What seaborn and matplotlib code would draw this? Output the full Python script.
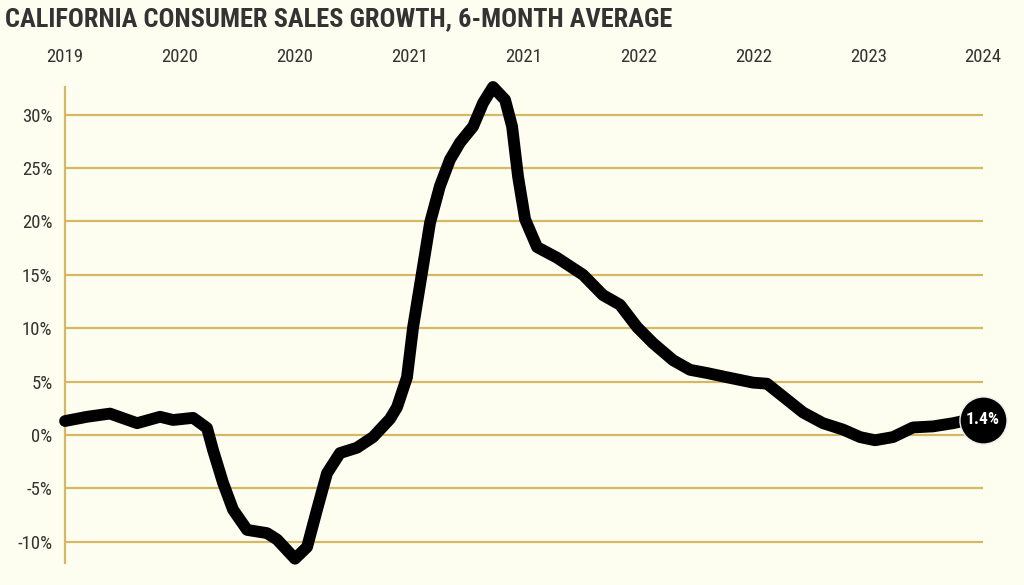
import matplotlib
matplotlib.use("Agg")
import matplotlib.pyplot as plt
import seaborn as sns
import pandas as pd
from matplotlib import font_manager

# ---- data (months since Jan 2019, 6-month average growth %) ----
months = [0.0, 1.44, 2.94, 4.71, 6.21, 7.06, 8.37, 9.28, 9.67, 10.33,
          10.98, 11.9, 13.2, 13.86, 15.03, 15.82, 16.47, 17.12, 17.97, 19.08,
          20.13, 21.24, 21.7, 22.35, 22.75, 23.33, 23.86, 24.5, 25.16, 25.82,
          26.67, 27.32, 27.97, 28.76, 29.22, 29.61, 30.07, 30.85, 32.16, 33.86,
          35.16, 36.27, 37.39, 38.43, 39.74, 40.85, 41.96, 43.27, 44.97, 45.88,
          46.93, 48.24, 49.54, 50.85, 51.96, 52.94, 54.12, 55.42, 56.73, 58.04,
          58.69, 60.0]
growth = [1.3, 1.7, 2.0, 1.1, 1.7, 1.4, 1.6, 0.65, -1.4, -4.5,
          -7.0, -8.9, -9.2, -9.8, -11.6, -10.5, -7.0, -3.6, -1.7, -1.2,
          -0.2, 1.5, 2.6, 5.4, 10.1, 15.2, 19.9, 23.3, 25.8, 27.4,
          28.9, 31.1, 32.6, 31.4, 28.9, 24.2, 20.2, 17.6, 16.6, 15.0,
          13.1, 12.2, 10.1, 8.6, 7.0, 6.1, 5.8, 5.4, 4.9, 4.8,
          3.6, 2.1, 1.1, 0.5, -0.2, -0.5, -0.2, 0.7, 0.8, 1.1,
          1.3, 1.4]
tick_pos = [0, 7.5, 15, 22.5, 30, 37.5, 45, 52.5, 60]
tick_labels = ["2019", "2020", "2020", "2021", "2021", "2022", "2022", "2023", "2024"]
y_ticks = [-10, -5, 0, 5, 10, 15, 20, 25, 30]
title = "CALIFORNIA CONSUMER SALES GROWTH, 6-MONTH AVERAGE"
end_label = "1.4%"

names = {f.name for f in font_manager.fontManager.ttflist}
cond = "Roboto Condensed" if "Roboto Condensed" in names else (
    "Liberation Sans Narrow" if "Liberation Sans Narrow" in names else "Roboto")

bg = "#FDFDF0"
gold = "#D6B864"
txt = "#333333"

sns.set_theme(style="white")
plt.rcParams["font.family"] = [cond, "DejaVu Sans"]

df = pd.DataFrame({"month": months, "growth": growth})

fig = plt.figure(figsize=(10.24, 5.85), dpi=100, facecolor=bg)
ax = fig.add_axes([0.0635, 0.0376, 0.8965, 0.8137])
ax.set_facecolor(bg)

for v in y_ticks:
    ax.axhline(v, color=gold, lw=1.6, zorder=1)

sns.lineplot(data=df, x="month", y="growth", ax=ax, color="black", lw=8.5,
             solid_joinstyle="round", solid_capstyle="round", zorder=3,
             clip_on=False, sort=False)

ax.scatter([months[-1]], [growth[-1]], s=1150, color="black", edgecolor="#EEEEEE",
           linewidth=1.0, zorder=5, clip_on=False)
ax.text(months[-1], growth[-1], end_label, color="white", ha="center", va="center",
        fontsize=12.5, fontweight="bold", zorder=6)

ax.set_xlim(0, 60)
ax.set_ylim(-12, 32.6)
ax.set_yticks(y_ticks)
ax.set_yticklabels([f"{v}%" for v in y_ticks])
ax.set_xticks(tick_pos)
ax.set_xticklabels(tick_labels)
ax.xaxis.tick_top()
ax.tick_params(axis="x", length=0, pad=15, labelsize=13.5, labelcolor=txt)
ax.tick_params(axis="y", length=0, pad=9, labelsize=13.5, labelcolor=txt)
ax.set_xlabel("")
ax.set_ylabel("")
for s in ["top", "right", "bottom"]:
    ax.spines[s].set_visible(False)
ax.spines["left"].set_color(gold)
ax.spines["left"].set_linewidth(1.6)

fig.text(0.005, 0.967, title, ha="left", va="center", fontsize=19,
         fontweight="bold", color=txt)

fig.savefig("out.png", dpi=100, facecolor=bg)
